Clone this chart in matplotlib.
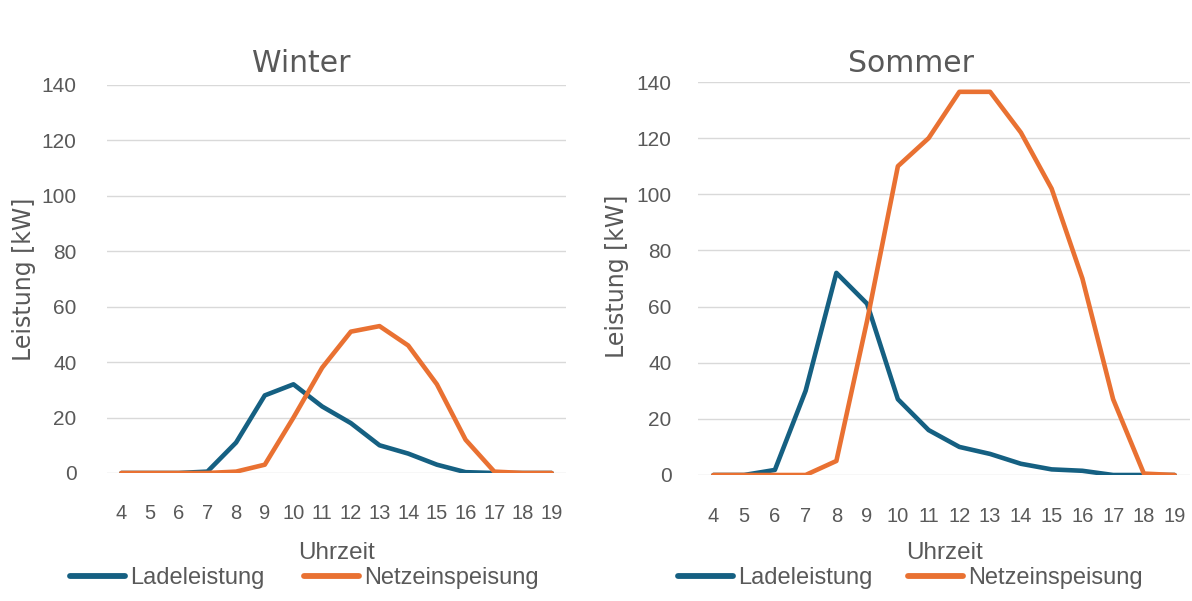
import matplotlib
matplotlib.use("Agg")
import matplotlib.pyplot as plt
import numpy as np

hours = list(range(4, 20))

winter_lade = [0, 0, 0, 0.5, 11, 28, 32, 24, 18, 10, 7, 3, 0.3, 0, 0, 0]
winter_netz = [0, 0, 0, 0, 0.5, 3, 20, 38, 51, 53, 46, 32, 12, 0.5, 0, 0]

sommer_lade = [0, 0, 1.8, 30, 72, 61, 27, 16, 10, 7.5, 4, 2, 1.5, 0, 0, 0]
sommer_netz = [0, 0, 0, 0, 5, 55, 110, 120, 136.5, 136.5, 122, 102, 70, 27, 0.5, 0]

y_ticks = [0, 20, 40, 60, 80, 100, 120, 140]

BLUE = "#156082"
ORANGE = "#E97132"
TEXT = "#595959"
GRID = "#D9D9D9"

W, H = 1192, 601
fig = plt.figure(figsize=(W / 100, H / 100), dpi=100)


def px(x0, y_top, x1, y_bottom):
    # pixel box -> figure rect
    return [x0 / W, 1 - y_bottom / H, (x1 - x0) / W, (y_bottom - y_top) / H]


def panel(rect, lade, netz, title, title_xy, ylabel_xy, xlabel_y, legend_xy,
          colspace, ytick_pad, xtick_pad):
    ax = fig.add_axes(rect)
    x = np.arange(len(hours))
    ax.plot(x, lade, color=BLUE, lw=3.3, solid_joinstyle="round",
            solid_capstyle="round", label="Ladeleistung", zorder=3)
    ax.plot(x, netz, color=ORANGE, lw=3.3, solid_joinstyle="round",
            solid_capstyle="round", label="Netzeinspeisung", zorder=3)

    ax.set_xlim(-0.5, len(hours) - 0.5)
    ax.set_ylim(0, 140)
    ax.set_xticks(x)
    ax.set_xticklabels([str(h) for h in hours])
    ax.set_yticks(y_ticks)
    ax.grid(axis="y", color=GRID, lw=1.0)
    ax.set_axisbelow(True)
    for s in ax.spines.values():
        s.set_visible(False)
    ax.tick_params(length=0, colors=TEXT)
    ax.tick_params(axis="y", pad=ytick_pad, labelsize=15)
    ax.tick_params(axis="x", pad=xtick_pad, labelsize=14.5)
    for lab in ax.get_xticklabels() + ax.get_yticklabels():
        lab.set_fontfamily("Liberation Sans")

    fig.text(title_xy[0] / W, 1 - title_xy[1] / H, title, ha="center",
             va="center", fontsize=21.5, color=TEXT, family="DejaVu Sans")
    fig.text(ylabel_xy[0] / W, 1 - ylabel_xy[1] / H, "Leistung [kW]",
             rotation=90, ha="center", va="center", fontsize=17,
             color=TEXT, family="DejaVu Sans")
    ax.set_xlabel("Uhrzeit", fontsize=17.5, color=TEXT,
                  family="Liberation Sans")
    ax.xaxis.set_label_coords(0.5, -(xlabel_y - (1 - rect[1]) * H) / (rect[3] * H))
    ax.xaxis.label.set_va("center")

    leg = ax.legend(loc="center left",
                    bbox_to_anchor=(legend_xy[0] / W, 1 - legend_xy[1] / H),
                    bbox_transform=fig.transFigure, ncol=2, frameon=False,
                    borderpad=0, borderaxespad=0, handlelength=2.35,
                    handletextpad=0.2, columnspacing=colspace,
                    prop={"family": "Liberation Sans", "size": 17})
    for t in leg.get_texts():
        t.set_color(TEXT)
    for h in leg.get_lines():
        h.set_linewidth(4.2)
    return ax


panel(px(107, 85, 566, 473), winter_lade, winter_netz, "Winter",
      title_xy=(301, 63), ylabel_xy=(24, 279), xlabel_y=553,
      legend_xy=(70, 578), colspace=1.65, ytick_pad=22, xtick_pad=22)

panel(px(698, 82, 1190, 475), sommer_lade, sommer_netz, "Sommer",
      title_xy=(911, 63), ylabel_xy=(617, 276), xlabel_y=553,
      legend_xy=(678, 578), colspace=1.5, ytick_pad=19, xtick_pad=23)

fig.savefig("out.png", dpi=100, facecolor="white")
